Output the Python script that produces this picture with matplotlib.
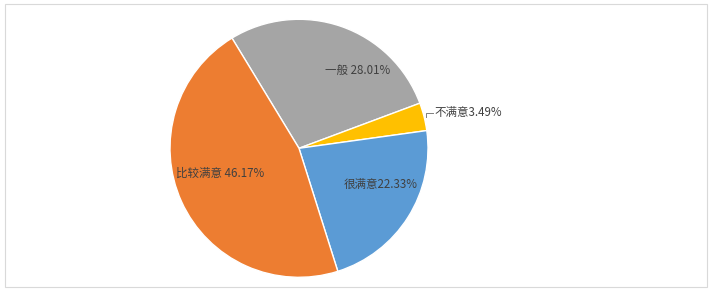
import matplotlib
matplotlib.use("Agg")
import matplotlib.pyplot as plt
from matplotlib.patches import Rectangle

plt.rcParams['font.family'] = ['Noto Sans CJK SC', 'DejaVu Sans']

# Data (clockwise order as drawn)
categories = ['一般', '不满意', '很满意', '比较满意']
values = [28.01, 3.49, 22.33, 46.17]
colors = ['#A5A5A5', '#FFC000', '#5B9BD5', '#ED7D31']
label_texts = ['一般 28.01%', '不满意3.49%', '很满意22.33%', '比较满意 46.17%']

W, H = 711, 291
dpi = 100
fig = plt.figure(figsize=(W / dpi, H / dpi), dpi=dpi)

# border
fig.patches.append(Rectangle((4.5 / W, 4.5 / H), 702 / W, 282 / H,
                             transform=fig.transFigure, fill=False,
                             edgecolor='#D9D9D9', linewidth=0.8))

cx, cy, R = 299, 148.3, 129
ax = fig.add_axes([(cx - R) / W, (H - cy - R) / H, 2 * R / W, 2 * R / H])

# start angle (matplotlib convention) so gray slice starts at upper-left
start = 90 - 328.7
wedges, _ = ax.pie(values, colors=colors, startangle=start, counterclock=False,
                   wedgeprops=dict(edgecolor='white', linewidth=1.0))
ax.set_xlim(-1, 1)
ax.set_ylim(-1, 1)
ax.set_aspect('equal')
ax.axis('off')

txt_color = '#404040'
fs = 8.3
positions = [(0.457, 0.607, 'center'), (1.054, 0.274, 'left'),
             (0.632, -0.277, 'center'), (-0.612, -0.192, 'center')]
for (x, y, ha), t in zip(positions, label_texts):
    ax.text(x, y, t, ha=ha, va='center', fontsize=fs, color=txt_color,
            clip_on=False)

# leader line for small slice
ax.plot([0.984, 0.984, 1.039], [0.242, 0.274, 0.274], color='#7F7F7F',
        linewidth=0.7, clip_on=False)

fig.savefig('out.png', dpi=dpi, facecolor='white')
